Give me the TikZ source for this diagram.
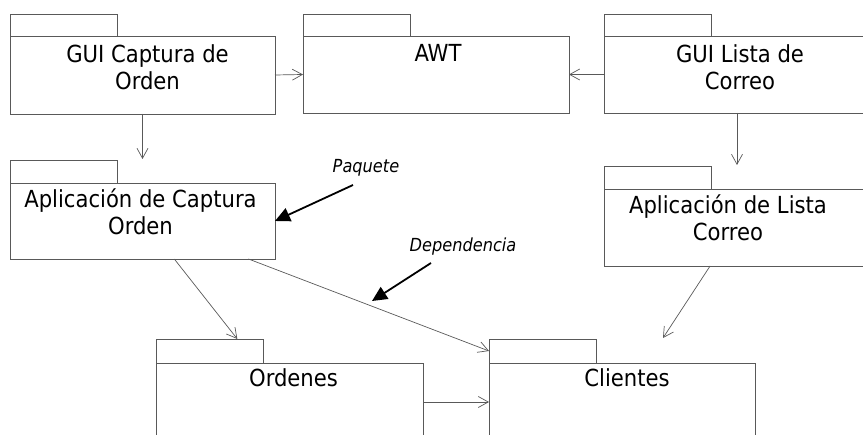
\documentclass[tikz,border=0pt]{standalone}
\usepackage{fontspec}
\setmainfont{DejaVu Sans Condensed}
\usetikzlibrary{arrows.meta,calc}
\begin{document}
\begin{tikzpicture}[x=1pt,y=-1pt,
  pkgline/.style={draw=black!65,line width=0.9pt,fill=white,inner sep=0pt,outer sep=0pt},
  tabbox/.style={pkgline,rectangle,anchor=north west},
  bodybox/.style={pkgline,rectangle,anchor=north west},
  pkgtext/.style={anchor=north,align=center,font=\fontsize{23.5}{27}\selectfont,inner sep=0pt},
  dep/.style={draw=black!65,line width=0.7pt,-{Straight Barb[length=10pt,width=11pt,line width=0.7pt]}},
  note/.style={draw=black,line width=1.8pt,-{Triangle[length=15pt,width=14pt]}},
  notetext/.style={font=\fontsize{18}{20}\selectfont\itshape,inner sep=0pt,anchor=base}]
\useasboundingbox (0,0) rectangle (863,435);
\begin{scope}
\clip (0,0) rectangle (863,435);

% package tabs and bodies
\node[tabbox,minimum width=107,minimum height=22] (guiCapTab) at (10,14) {};
\node[bodybox,minimum width=265,minimum height=78] (guiCap) at (10,36) {};
\node[pkgtext] (guiCapTxt) at ($(guiCap.north)+(5,8)$) {GUI Captura de\\Orden};

\node[tabbox,minimum width=107,minimum height=22] (awtTab) at (303,14) {};
\node[bodybox,minimum width=266,minimum height=77] (awt) at (303,36) {};
\node[pkgtext] (awtTxt) at ($(awt.north)+(2,8)$) {AWT};

\node[tabbox,minimum width=107,minimum height=22] (guiListaTab) at (604,14) {};
\node[bodybox,minimum width=272,minimum height=77] (guiLista) at (604,36) {};
\node[pkgtext] (guiListaTxt) at ($(guiLista.north)+(0,8)$) {GUI Lista de\\Correo};

\node[tabbox,minimum width=107,minimum height=23] (appCapTab) at (10,160) {};
\node[bodybox,minimum width=265,minimum height=76] (appCap) at (10,183) {};
\node[pkgtext] (appCapTxt) at ($(appCap.north)+(-2,6)$) {Aplicación de Captura\\Orden};

\node[tabbox,minimum width=107,minimum height=23] (appListaTab) at (604,166) {};
\node[bodybox,minimum width=272,minimum height=77] (appLista) at (604,189) {};
\node[pkgtext] (appListaTxt) at ($(appLista.north)+(-12,6)$) {Aplicación de Lista\\Correo};

\node[tabbox,minimum width=107,minimum height=24] (ordTab) at (156,339) {};
\node[bodybox,minimum width=267,minimum height=90] (ordenes) at (156,363) {};
\node[pkgtext] (ordTxt) at ($(ordenes.north)+(4,5)$) {Ordenes};

\node[tabbox,minimum width=107,minimum height=24] (cliTab) at (489,339) {};
\node[bodybox,minimum width=266,minimum height=90] (clientes) at (489,363) {};
\node[pkgtext] (cliTxt) at ($(clientes.north)+(5,5)$) {Clientes};

% dependencies
\draw[dep] (guiCap.east) -- (awt.west);
\draw[dep] (guiLista.west) -- (awt.east);
\coordinate (capDown) at ($(guiCap.south)+(0,45)$);
\draw[dep] (guiCap.south) -- (capDown);
\coordinate (listaTop) at (737,165);
\draw[dep] (guiLista.south -| listaTop) -- (listaTop);
\draw[dep] ($(appCap.south west)!0.62!(appCap.south east)$) -- ($(ordTab.north west)!0.76!(ordTab.north east)$);
\draw[dep] ($(appCap.south west)!0.9!(appCap.south east)$) -- (cliTab.west);
\coordinate (cliAbove) at (663,338);
\draw[dep] ($(appLista.south west)!0.39!(appLista.south east)$) -- (cliAbove);
\coordinate (ordOut) at ($(ordenes.north east)+(0,39)$);
\draw[dep] (ordOut) -- (ordOut -| clientes.west);

% annotations
\node[notetext] (paquete) at (366,173) {Paquete};
\coordinate (paqTail) at (353,185);
\draw[note] (paqTail) -- (appCap.east);
\node[notetext] (dependencia) at (463,252) {Dependencia};
\coordinate (depTail) at (431,263);
\coordinate (depTip) at (372,301);
\draw[note] (depTail) -- (depTip);
\end{scope}
\end{tikzpicture}
\end{document}
